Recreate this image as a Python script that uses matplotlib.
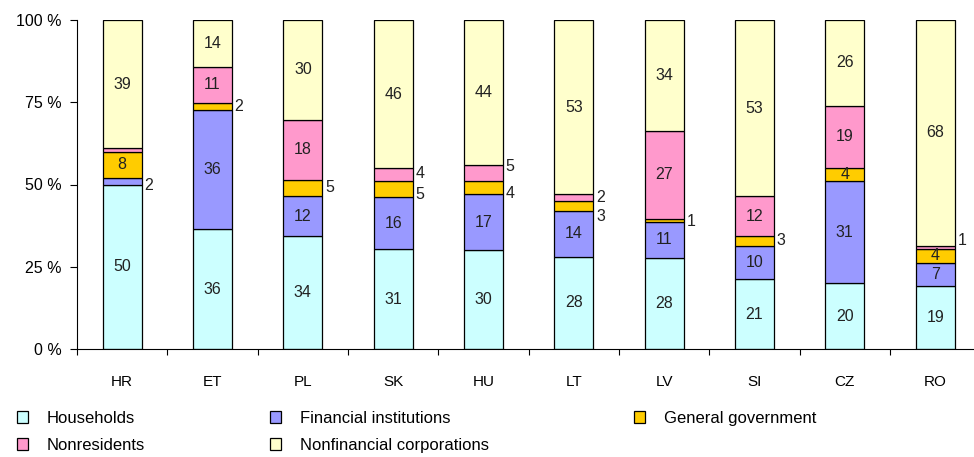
import numpy as np
import matplotlib
matplotlib.use("Agg")
import matplotlib.pyplot as plt
from matplotlib.patches import Patch

plt.rcParams['font.family'] = ['Liberation Sans', 'DejaVu Sans']

# Data
countries = ["HR", "ET", "PL", "SK", "HU", "LT", "LV", "SI", "CZ", "RO"]
series = ["Households", "Financial institutions", "General government",
          "Nonresidents", "Nonfinancial corporations"]
households = [50, 36, 34, 31, 30, 28, 28, 21, 20, 19]
financial = [2, 36, 12, 16, 17, 14, 11, 10, 31, 7]
government = [8, 2, 5, 5, 4, 3, 1, 3, 4, 4]
nonresidents = [1, 11, 18, 4, 5, 2, 27, 12, 19, 1]
nonfinancial = [39, 14, 30, 46, 44, 53, 34, 53, 26, 68]

colors = ["#CCFFFF", "#9999FF", "#FFCC00", "#FF99CC", "#FFFFCC"]

# labels written beside the bar instead of inside: (country, series index) -> y offset in points
outside = {("HR", 1): -3, ("ET", 2): 0, ("PL", 2): 0,
           ("SK", 3): 1, ("SK", 2): -4, ("HU", 3): 5, ("HU", 2): -4,
           ("LT", 3): 0, ("LT", 2): -8, ("LV", 2): -1, ("SI", 2): 0,
           ("RO", 3): 5}
hidden = {("HR", 3)}

vals = np.array([households, financial, government, nonresidents, nonfinancial], dtype=float)
pct = vals / vals.sum(axis=0) * 100

fig = plt.figure(figsize=(9.74, 4.57), dpi=100)
ax = fig.add_axes([77 / 974, 1 - 349 / 457, 1 - 77 / 974, (349 - 20) / 457])

x = np.arange(len(countries))
w = 0.43
bottom = np.zeros(len(countries))
for i, name in enumerate(series):
    ax.bar(x, pct[i], w, bottom=bottom, color=colors[i], edgecolor="black",
           linewidth=0.9, label=name, zorder=2)
    for j, c in enumerate(countries):
        if (c, i) in hidden:
            continue
        yc = bottom[j] + pct[i, j] / 2
        txt = "%d" % vals[i, j]
        if (c, i) in outside:
            ax.annotate(txt, (x[j] + w / 2, yc), xytext=(2, outside[(c, i)]),
                        textcoords="offset points", ha="left", va="center",
                        fontsize=11.5, color="#222222")
        else:
            ax.text(x[j], yc, txt, ha="center", va="center", fontsize=11.5,
                    color="#222222", zorder=3)
    bottom += pct[i]

ax.set_xlim(-0.5, 9.43)
ax.set_ylim(0, 100)
ax.set_yticks([0, 25, 50, 75, 100])
ax.set_yticklabels(["0 %", "25 %", "50 %", "75 %", "100 %"], fontsize=11.5)
ax.set_xticks(np.arange(-0.5, 9.5, 1))
ax.set_xticklabels([])
ax.set_xticks(x, minor=True)
ax.set_xticklabels(countries, minor=True, fontsize=11)
ax.tick_params(axis="x", which="minor", length=0, pad=19)
ax.tick_params(axis="x", which="major", length=4, direction="out")
ax.tick_params(axis="y", length=5, direction="out", pad=6)
for s in ["top", "right"]:
    ax.spines[s].set_visible(False)

# legend, three separate columns
handles = [Patch(facecolor=colors[k], edgecolor="black", linewidth=0.9) for k in range(5)]
cols = [([0, 3], 10 / 974), ([1, 4], 263 / 974), ([2], 627 / 974)]
for idx, xpos in cols:
    fig.legend([handles[k] for k in idx], [series[k] for k in idx],
               loc="upper left", bbox_to_anchor=(xpos, 1 - 404 / 457),
               frameon=False, fontsize=12, handlelength=0.7, handleheight=0.7,
               handletextpad=1.1, labelspacing=0.75, borderaxespad=0)

fig.savefig("out.png", dpi=100)
